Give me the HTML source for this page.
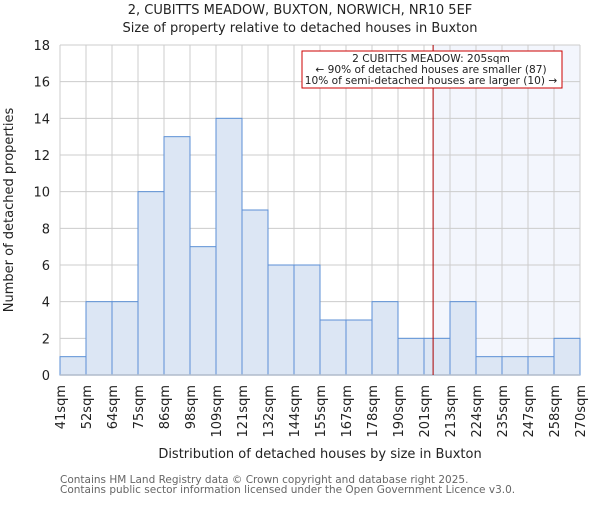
<!DOCTYPE html>
<html><head><meta charset="utf-8"><style>
body{margin:0;background:#fff;}
text{font-family:"DejaVu Sans","Liberation Sans",sans-serif;}
</style></head><body>
<svg id="chart" width="600" height="500" xmlns="http://www.w3.org/2000/svg">
<g id="g"></g>
</svg>
<script>
const binLabels=["41sqm","52sqm","64sqm","75sqm","86sqm","98sqm","109sqm","121sqm","132sqm","144sqm","155sqm","167sqm","178sqm","190sqm","201sqm","213sqm","224sqm","235sqm","247sqm","258sqm","270sqm"];
const counts=[1,4,4,10,13,7,14,9,6,6,3,3,4,2,2,4,1,1,1,2];
const yTicks=[0,2,4,6,8,10,12,14,16,18];
const markerBin=14.35;
const X0=60,X1=580,Y0=375,Y1=45,YMAX=18;
const n=counts.length;
const xs=i=>X0+(X1-X0)*i/n;
const ys=v=>Y0-(Y0-Y1)*v/YMAX;
const NS="http://www.w3.org/2000/svg";
const g=document.getElementById('g');
function mk(t,a,txt){const e=document.createElementNS(NS,t);for(const k in a)e.setAttribute(k,a[k]);if(txt!=null)e.textContent=txt;g.appendChild(e);return e;}
const mx=xs(markerBin);
let e;
e=mk('rect',{x:mx,y:Y1,width:X1-mx,height:Y0-Y1,fill:'#f3f6fd'});


yTicks.forEach(t=>{
 e=mk('line',{x1:X0,x2:X1,y1:ys(t),y2:ys(t),stroke:'#cccccc','stroke-width':1});
 
 
 e=mk('text',{x:X0-10,y:ys(t)+5,'text-anchor':'end','font-size':13,fill:'#222'},t);
 
 
});
binLabels.forEach((l,i)=>{
 e=mk('line',{x1:xs(i),x2:xs(i),y1:Y1,y2:Y0,stroke:'#cccccc','stroke-width':1});
 
 
 const x=xs(i)+5;
 e=mk('text',{x:x,y:385,'text-anchor':'end','font-size':13,fill:'#222',transform:`rotate(-90 ${x} 385)`},l);
 
 
});
counts.forEach((c,i)=>{
 e=mk('rect',{x:xs(i),y:ys(c),width:xs(i+1)-xs(i),height:Y0-ys(c),fill:'#dce6f4',stroke:'#5b8fd6','stroke-width':1});
 
 
});
e=mk('line',{x1:X0,x2:X1,y1:Y0,y2:Y0,stroke:'#b0bccc','stroke-width':1.5});


e=mk('line',{x1:mx,x2:mx,y1:Y1,y2:Y0,stroke:'#aa0000','stroke-width':1});


e=mk('rect',{x:302,y:51,width:260,height:37,fill:'#fff',stroke:'#cc0000','stroke-width':1});


[["2 CUBITTS MEADOW: 205sqm",62],["← 90% of detached houses are smaller (87)",73],["10% of semi-detached houses are larger (10) →",84]].forEach(([t,y])=>{
 e=mk('text',{x:431,y:y,'text-anchor':'middle','font-size':10.6,fill:'#222'},t);
 
 
});
e=mk('text',{x:300,y:14,'text-anchor':'middle','font-size':13,fill:'#222'},"2, CUBITTS MEADOW, BUXTON, NORWICH, NR10 5EF");


e=mk('text',{x:300,y:32,'text-anchor':'middle','font-size':13,fill:'#222'},"Size of property relative to detached houses in Buxton");


e=mk('text',{x:320,y:458,'text-anchor':'middle','font-size':13,fill:'#222'},"Distribution of detached houses by size in Buxton");


e=mk('text',{x:13,y:210,'text-anchor':'middle','font-size':13,fill:'#222',transform:'rotate(-90 13 210)'},"Number of detached properties");


e=mk('text',{x:60,y:483,'font-size':10.5,fill:'#666'},"Contains HM Land Registry data © Crown copyright and database right 2025.");


e=mk('text',{x:60,y:493,'font-size':10.5,fill:'#666'},"Contains public sector information licensed under the Open Government Licence v3.0.");


</script>
</body></html>
